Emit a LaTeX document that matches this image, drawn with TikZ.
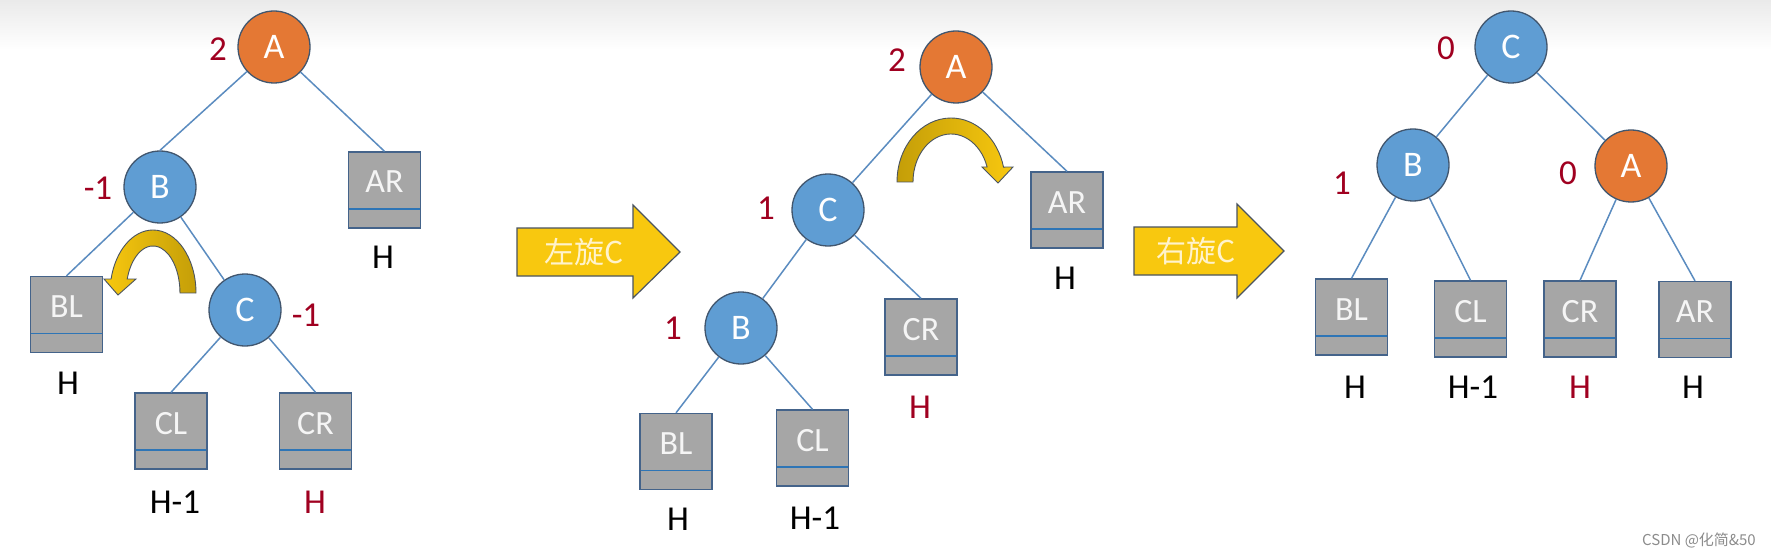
\documentclass[tikz,border=0pt]{standalone}
\usepackage{fontspec}
\setmainfont{Carlito}
\newfontfamily\cjk{Noto Sans CJK SC}
\definecolor{nodeblue}{HTML}{5F9DD3}
\definecolor{nodeorange}{HTML}{E47834}
\definecolor{circline}{HTML}{41566E}
\definecolor{boxgrey}{HTML}{A6A6A6}
\definecolor{boxline}{HTML}{44638A}
\definecolor{innerline}{HTML}{2E75B6}
\definecolor{edgeblue}{HTML}{5B8CC0}
\definecolor{numred}{HTML}{A00020}
\definecolor{arrowyellow}{HTML}{F8C80F}
\definecolor{arrowgold}{HTML}{C49E08}
\definecolor{arrowline}{HTML}{4A5460}
\definecolor{cream}{HTML}{FFF3CC}
\definecolor{topgrey}{HTML}{EAEAEA}
\begin{document}
\begin{tikzpicture}[x=1pt,y=-1pt,
  circ/.style={circle, draw=circline, line width=1.3pt, minimum size=72pt, inner sep=0pt, text=white, font=\fontsize{36}{40}\selectfont},
  bluenode/.style={circ, fill=nodeblue},
  orangenode/.style={circ, fill=nodeorange},
  sub/.style={rectangle, draw=boxline, line width=1.3pt, fill=boxgrey, minimum width=72pt, inner xsep=0pt, inner ysep=0pt, text height=41pt, text depth=35pt, text=white!96!black, font=\fontsize{34}{38}\selectfont,
    path picture={\draw[innerline, line width=1.3pt] ([yshift=19pt]path picture bounding box.south west) -- ([yshift=19pt]path picture bounding box.south east);}},
  bf/.style={text=numred, font=\fontsize{35}{40}\selectfont, inner sep=0pt},
  ht/.style={text=black, font=\fontsize{35}{40}\selectfont, inner sep=0pt},
  htred/.style={ht, text=numred},
  link/.style={draw=edgeblue, line width=1.5pt},
  bigarrow/.style={fill=arrowyellow, draw=arrowline, line width=1.2pt, line join=miter},
  arrowtext/.style={text=cream, font=\cjk\fontsize{30}{36}\selectfont, inner sep=0pt},
  turnarrow/.style={draw=arrowline, line width=0.9pt, line join=miter}
]
\useasboundingbox (0,0) rectangle (1771,556);
\fill[white] (0,0) rectangle (1771,556);
\shade[top color=topgrey, bottom color=white] (0,0) rectangle (1771,50);

% ---------------- left tree ----------------
\node[orangenode] (LA) at (274,47) {A};
\node[bluenode] (LB) at (160,187) {B};
\node[bluenode] (LC) at (245,310) {C};
\node[sub] (LAR) at (384.5,190) {AR};
\node[sub] (LBL) at (66.5,314.5) {BL};
\node[sub] (LCL) at (171,431) {CL};
\node[sub] (LCR) at (315.5,431) {CR};
\node[bf] (lA) at (218,49) {2};
\node[bf] (lB) at (98,188) {-1};
\node[bf] (lC) at (306,315) {-1};
\node[ht] (hLAR) at (383,257) {H};
\node[ht] (hLBL) at (68,383) {H};
\node[ht] (hLCL) at (175,502) {H-1};
\node[htred] (hLCR) at (315,502) {H};
\draw[link] (LA) -- (LB.north);
\draw[link] (LA) -- (LAR.north);
\draw[link] (LB) -- (LBL.north);
\draw[link] (LB) -- (LC);
\draw[link] (LC) -- (LCL.north);
\draw[link] (LC) -- (LCR.north);
% turn arrow (counter-clockwise, head on the left)
\shade[turnarrow, left color=arrowyellow, right color=arrowgold]
  (196,293) arc[start angle=0, end angle=-167.2, x radius=43, y radius=63]
  -- (104,279) -- (118,295) -- (136,279) -- (127.2,279)
  arc[start angle=-162.7, end angle=0, x radius=27, y radius=47]
  -- cycle;

% ---------------- left big arrow ----------------
\draw[bigarrow] (517,228) -- (633,228) -- (633,205) -- (680,252) -- (633,298) -- (633,276) -- (517,276) -- cycle;
\node[arrowtext] (T1) at (584,252) {左旋C};

% ---------------- middle tree ----------------
\node[orangenode] (MA) at (956,67) {A};
\node[bluenode] (MC) at (828,210) {C};
\node[bluenode] (MB) at (741,328) {B};
\node[sub] (MAR) at (1067,210) {AR};
\node[sub] (MCR) at (921,337) {CR};
\node[sub] (MBL) at (676,451.5) {BL};
\node[sub] (MCL) at (812.5,448) {CL};
\node[bf] (mA) at (897,60) {2};
\node[bf] (mC) at (766,208) {1};
\node[bf] (mB) at (673,328) {1};
\node[ht] (hMAR) at (1065,278) {H};
\node[htred] (hMCR) at (920,407) {H};
\node[ht] (hMBL) at (678,519) {H};
\node[ht] (hMCL) at (815,518) {H-1};
\draw[link] (MA) -- (MC);
\draw[link] (MA) -- (MAR.north);
\draw[link] (MC) -- (MB);
\draw[link] (MC) -- (MCR.north);
\draw[link] (MB) -- (MBL.north);
\draw[link] (MB) -- (MCL.north);
% turn arrow (clockwise, head on the right)
\shade[turnarrow, left color=arrowgold, right color=arrowyellow]
  (897,182) arc[start angle=180, end angle=346.5, x radius=54, y radius=64]
  -- (1013,167) -- (998,183) -- (982,167) -- (987.1,167)
  arc[start angle=341.8, end angle=180, x radius=38, y radius=48]
  -- cycle;

% ---------------- right big arrow ----------------
\draw[bigarrow] (1134,227) -- (1237,227) -- (1237,204) -- (1284,251) -- (1237,298) -- (1237,275) -- (1134,275) -- cycle;
\node[arrowtext] (T2) at (1196,251) {右旋C};

% ---------------- right tree ----------------
\node[bluenode] (RC) at (1511,47) {C};
\node[bluenode] (RB) at (1413,165) {B};
\node[orangenode] (RA) at (1631,166) {A};
\node[sub] (RBL) at (1351.5,317) {BL};
\node[sub] (RCL) at (1470.5,319) {CL};
\node[sub] (RCR) at (1580,319) {CR};
\node[sub] (RAR) at (1695,319.5) {AR};
\node[bf] (rC) at (1446,48) {0};
\node[bf] (rB) at (1342,183) {1};
\node[bf] (rA) at (1568,173) {0};
\node[ht] (hRBL) at (1355,387) {H};
\node[ht] (hRCL) at (1473,387) {H-1};
\node[htred] (hRCR) at (1580,387) {H};
\node[ht] (hRAR) at (1693,387) {H};
\draw[link] (RC) -- (RB);
\draw[link] (RC) -- (RA);
\draw[link] (RB) -- (RBL.north);
\draw[link] (RB) -- (RCL.north);
\draw[link] (RA) -- (RCR.north);
\draw[link] (RA) -- (RAR.north);

% watermark
\node[anchor=east, inner sep=0pt, text=black!45, font=\cjk\fontsize{15}{17}\selectfont] (wm) at (1756,540) {CSDN @化简\&50};
\end{tikzpicture}
\end{document}
